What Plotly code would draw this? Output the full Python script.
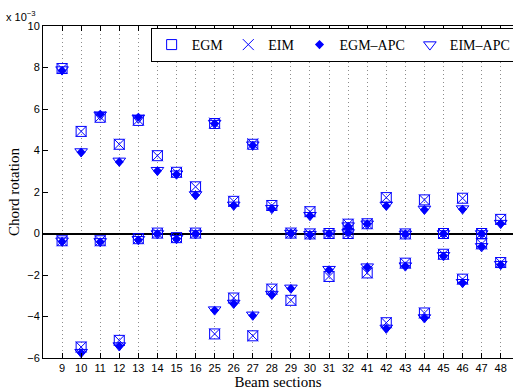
import plotly.graph_objects as go

# Beam sections along the horizontal axis
sections = ["9", "10", "11", "12", "13", "14", "15", "16",
            "25", "26", "27", "28", "29", "30", "31", "32",
            "41", "42", "43", "44", "45", "46", "47", "48"]

# Chord rotations (x 1e-3), first end of each section
egm_end1 = [7.95, 4.92, 5.60, 4.30, 5.45, 3.75, 2.95, 2.25,
            5.30, 1.55, 4.30, 1.35, 0.02, 1.05, 0.00, 0.45,
            0.47, 1.73, -0.02, 1.62, 0.00, 1.70, 0.00, 0.68]
eim_end1 = [7.95, 4.92, 5.62, 4.30, 5.47, 3.75, 2.95, 2.25,
            5.32, 1.55, 4.32, 1.35, 0.02, 1.05, 0.00, 0.45,
            0.47, 1.73, -0.02, 1.62, 0.00, 1.70, 0.00, 0.68]
egmapc_end1 = [7.85, 3.92, 5.75, 3.45, 5.60, 3.02, 2.85, 1.85,
               5.30, 1.35, 4.25, 1.20, 0.02, 0.85, 0.00, 0.35,
               0.47, 1.33, -0.02, 1.15, 0.00, 1.17, 0.00, 0.47]
eimapc_end1 = [7.90, 3.95, 5.72, 3.50, 5.57, 3.05, 2.88, 1.88,
               5.32, 1.38, 4.28, 1.22, 0.02, 0.88, 0.00, 0.38,
               0.47, 1.38, -0.02, 1.18, 0.00, 1.20, 0.00, 0.50]

# Chord rotations (x 1e-3), second end of each section
egm_end2 = [-0.35, -5.47, -0.35, -5.15, -0.25, 0.02, -0.20, 0.02,
            -4.84, -3.11, -4.93, -2.68, -3.22, -0.02, -2.07, 0.00,
            -1.90, -4.30, -1.43, -3.83, -1.00, -2.20, -0.50, -1.40]
eim_end2 = [-0.35, -5.47, -0.35, -5.15, -0.25, 0.02, -0.20, 0.02,
            -4.84, -3.11, -4.93, -2.68, -3.22, -0.02, -2.07, 0.00,
            -1.90, -4.30, -1.43, -3.83, -1.00, -2.20, -0.50, -1.40]
egmapc_end2 = [-0.38, -5.75, -0.40, -5.42, -0.30, 0.00, -0.25, 0.00,
               -3.70, -3.38, -3.95, -2.95, -2.65, -0.05, -1.75, 0.05,
               -1.62, -4.58, -1.57, -4.07, -1.07, -2.37, -0.63, -1.50]
eimapc_end2 = [-0.35, -5.72, -0.38, -5.40, -0.28, 0.00, -0.23, 0.00,
               -3.67, -3.35, -3.92, -2.92, -2.62, -0.04, -1.72, 0.05,
               -1.60, -4.55, -1.55, -4.05, -1.05, -2.35, -0.62, -1.48]

y_ticks = [-6, -4, -2, 0, 2, 4, 6, 8, 10]

BLUE = "#0000ff"
SANS = "Liberation Sans, Arial, sans-serif"
SERIF = "Liberation Serif, Times New Roman, serif"

series = [
    ("EGM", egm_end1, egm_end2, dict(symbol="square-open", size=10, line=dict(width=1, color=BLUE))),
    ("EIM", eim_end1, eim_end2, dict(symbol="x-thin-open", size=11, line=dict(width=1, color=BLUE))),
    ("EGM\u2013APC", egmapc_end1, egmapc_end2, dict(symbol="diamond", size=7, line=dict(width=0))),
    ("EIM\u2013APC", eimapc_end1, eimapc_end2, dict(symbol="triangle-down-open", size=11, line=dict(width=1, color=BLUE))),
]

fig = go.Figure()
for name, end1, end2, mk in series:
    fig.add_trace(go.Scatter(
        x=sections + sections,
        y=end1 + end2,
        mode="markers",
        name=name,
        marker=dict(color=BLUE, **mk),
        cliponaxis=False,
    ))

fig.update_layout(
    width=513, height=391,
    margin=dict(l=43, r=0, t=26, b=33, autoexpand=False),
    paper_bgcolor="white", plot_bgcolor="white",
    showlegend=True,
    legend=dict(
        orientation="h",
        x=0.229, xanchor="left",
        y=0.994, yanchor="top",
        bgcolor="white", bordercolor="black", borderwidth=1,
        font=dict(family=SERIF, size=14, color="black"),
        itemwidth=30,
    ),
    xaxis=dict(
        type="category",
        range=[-1, 23.645],
        showline=True, linecolor="black", linewidth=1, mirror="ticks",
        ticks="inside", ticklen=5, tickcolor="black", tickwidth=1,
        showgrid=True, gridcolor="#8c8c8c", gridwidth=1, griddash="1px,3px",
        tickfont=dict(family=SANS, size=11, color="black"),
        title=dict(text="Beam sections", font=dict(family=SERIF, size=15, color="black"), standoff=2),
        zeroline=False,
    ),
    yaxis=dict(
        range=[-6, 10],
        tickvals=y_ticks,
        showline=True, linecolor="black", linewidth=1,
        ticks="inside", ticklen=5, tickcolor="black", tickwidth=1,
        showgrid=False,
        zeroline=True, zerolinecolor="black", zerolinewidth=1.5,
        tickfont=dict(family=SANS, size=11, color="black"),
        title=dict(text="Chord rotation", font=dict(family=SERIF, size=15, color="black"), standoff=4),
    ),
    annotations=[dict(
        text="x 10<sup>\u22123</sup>",
        xref="paper", yref="paper", x=-0.083, y=1,
        xanchor="left", yanchor="bottom", yshift=1,
        showarrow=False,
        font=dict(family=SANS, size=11, color="black"),
    )],
)

fig.write_html("out.html")
